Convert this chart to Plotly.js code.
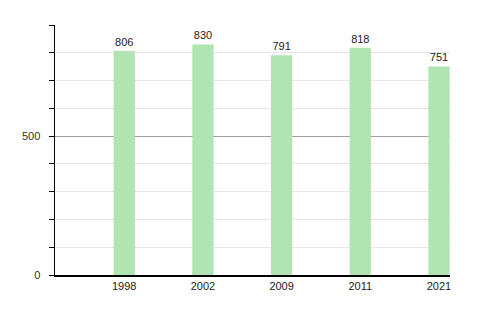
<!DOCTYPE html>
<html>
<head>
<meta charset="utf-8">
<script src="https://cdn.plot.ly/plotly-3.0.1.min.js"></script>
<style>html,body{margin:0;padding:0;background:#fff;}#chart{width:500px;height:310px;}</style>
</head>
<body>
<div id="chart"></div>
<script>
const years = ['1998', '2002', '2009', '2011', '2021'];
const values = [806, 830, 791, 818, 751];
const yTickVals = [0, 100, 200, 300, 400, 500, 600, 700, 800, 900];
const yTickText = ['0', '', '', '', '', '500', '', '', '', ''];
const majorGrid = [500];

const trace = {
  type: 'bar',
  x: years,
  y: values,
  text: values.map(String),
  textposition: 'outside',
  cliponaxis: false,
  textfont: {family: 'Liberation Sans, Arial, sans-serif', size: 11, color: '#222'},
  marker: {color: 'rgb(176,228,176)'},
  width: 0.27,
  hoverinfo: 'none'
};

const layout = {
  width: 500, height: 310,
  margin: {l: 55, r: 50, t: 25, b: 35},
  paper_bgcolor: '#fff', plot_bgcolor: '#fff',
  showlegend: false,
  font: {family: 'Liberation Sans, Arial, sans-serif', size: 11, color: '#333'},
  xaxis: {
    type: 'category',
    range: [-0.88, 4.14],
    showline: true, linecolor: '#000', linewidth: 1.5,
    ticks: '', showgrid: false,
    tickfont: {size: 11, color: '#222'},
    fixedrange: true
  },
  yaxis: {
    range: [0, 900],
    tickvals: yTickVals,
    ticktext: yTickText,
    ticks: 'outside', ticklen: 5, tickcolor: '#000',
    ticklabelstandoff: 6,
    showline: true, linecolor: '#000', linewidth: 1.5,
    showgrid: true, gridcolor: '#e6e6e6',
    zeroline: false,
    tickfont: {size: 11, color: '#333'},
    fixedrange: true
  },
  yaxis2: {
    overlaying: 'y',
    range: [0, 900],
    tickvals: majorGrid,
    showticklabels: false,
    ticks: '',
    showline: false,
    showgrid: true, gridcolor: '#a0a0a0', gridwidth: 1,
    zeroline: false,
    fixedrange: true
  }
};

const gridTrace = {type: 'scatter', x: [years[0]], y: [null], yaxis: 'y2', hoverinfo: 'none', showlegend: false};

Plotly.newPlot('chart', [trace, gridTrace], layout, {staticPlot: true, displayModeBar: false});
</script>
</body>
</html>
